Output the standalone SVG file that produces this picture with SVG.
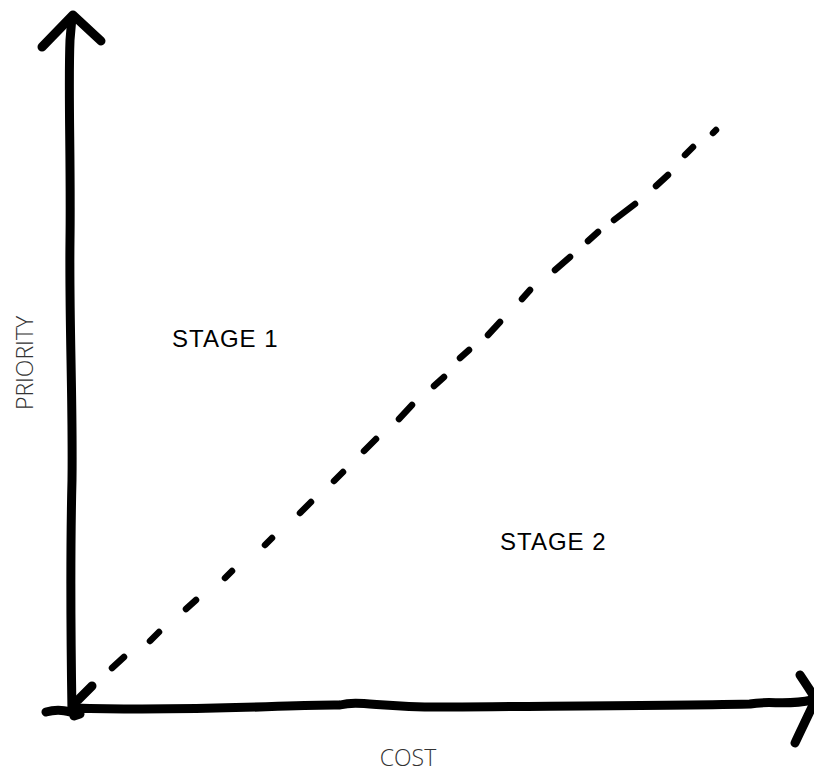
<svg xmlns="http://www.w3.org/2000/svg" width="814" height="772" viewBox="0 0 814 772">
<style>
.axis{fill:none;stroke:#000;stroke-width:9;stroke-linecap:round;stroke-linejoin:round}
.dash{fill:none;stroke:#000;stroke-width:6.5;stroke-linecap:round}
.stage{font-family:"Liberation Sans",Arial,sans-serif;font-size:24px;letter-spacing:1px;fill:#000}
.lab{font-family:"Open Sans","Liberation Sans",sans-serif;font-weight:300;font-size:23px;fill:#333}
</style>
<rect width="814" height="772" fill="#fff"/>
<g id="connectors">
<g id="y-axis">
<path class="axis" d="M72,712 C71,650 70,560 72,480 C73,400 69,320 70,240 C71,160 68,90 70,40 L72,17"/>
<path class="axis" d="M42,47 L73,15 L101,41"/>
</g>
<g id="x-axis">
<path class="axis" d="M46,712 C60,708 70,712 80,714 L74,716 M74,708 C200,712 300,704 340,705 C360,700 380,708 450,707 C550,706 650,706 750,704 C770,700 785,706 812,700"/>
<path class="axis" d="M78,700 L92,686"/>
<path class="axis" d="M800,675 C806,684 810,690 813,695 M813,705 C806,720 800,732 795,743"/>
</g>
<g id="divider">
<path class="dash" d="M112,668 L124,657 M150,641 L159,632 M186,609 L196,600 M225,578 L232,571 M265,545 L272,538 M300,513 L311,502 M334,481 L343,472 M364,451 L376,439 M399,419 L412,405 M434,386 L444,377 M460,358 L469,350 M488,335 L500,322 M522,299 L530,290 M555,270 L570,257 M588,241 L598,232 M614,220 L635,204 M656,186 L668,175 M685,155 L693,147 M713,133 L716,130"/>
</g>
</g>
<g id="stage1"><text class="stage" x="172" y="347">STAGE 1</text></g>
<g id="stage2"><text class="stage" x="500" y="550">STAGE 2</text></g>
<g id="priority"><text class="lab" transform="translate(33,363) rotate(-90)" text-anchor="middle">PRIORITY</text></g>
<g id="cost"><text class="lab" x="408" y="766" text-anchor="middle">COST</text></g>
</svg>
